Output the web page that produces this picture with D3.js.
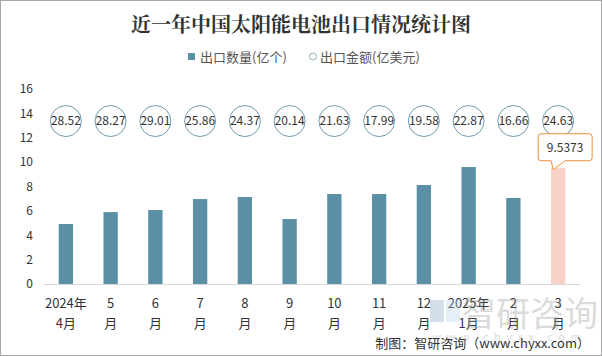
<!DOCTYPE html>
<html><head><meta charset="utf-8">
<script src="https://cdn.jsdelivr.net/npm/d3@7"></script>
<style>body{margin:0;background:#fff}svg{display:block}</style>
</head><body>
<script>
const categories = ["2024年|4月","5|月","6|月","7|月","8|月","9|月","10|月","11|月","12|月","2025年|1月","2|月","3|月"];
const quantity = [4.92, 5.9, 6.07, 6.97, 7.14, 5.33, 7.38, 7.38, 8.12, 9.6, 7.06, 9.5373];
const amount = [28.52, 28.27, 29.01, 25.86, 24.37, 20.14, 21.63, 17.99, 19.58, 22.87, 16.66, 24.63];
const yTicks = [0, 2, 4, 6, 8, 10, 12, 14, 16];
const highlightLabel = "9.5373";

const W = 602, H = 356;
const font = "'Noto Sans CJK SC','Microsoft YaHei',sans-serif";
const svg = d3.select("body").append("svg").attr("width", W).attr("height", H);
svg.append("rect").attr("x",0.5).attr("y",0.5).attr("width",W-1).attr("height",H-1)
  .attr("fill","#fff").attr("stroke","#a6a6a6");

const x = d3.scaleBand().domain(categories).range([43.5, 580.5]).paddingInner(0.68).paddingOuter(0.34);
const y = d3.scaleLinear().domain([0, 16]).range([284, 89]);

// title
svg.append("text").attr("x", 301).attr("y", 32).attr("text-anchor","middle")
  .style("font-family","'Noto Serif CJK SC','Noto Sans CJK SC',serif").style("font-weight","bold")
  .style("font-size","20px").attr("fill","#333").text("近一年中国太阳能电池出口情况统计图");

// legend
const lg = svg.append("g").style("font-family", font).style("font-size","13px").attr("fill","#555");
lg.append("rect").attr("x",188).attr("y",53).attr("width",7).attr("height",7).attr("fill","#5b8fa6");
lg.append("text").attr("x",200).attr("y",61.5).text("出口数量(亿个)");
lg.append("circle").attr("cx",313).attr("cy",56.5).attr("r",3.5).attr("fill","#fff").attr("stroke","#8fb0c0");
lg.append("text").attr("x",320).attr("y",61.5).text("出口金额(亿美元)");

// y axis
const ya = svg.append("g").attr("transform","translate(33,0)")
  .call(d3.axisLeft(y).tickValues(yTicks).tickSize(0).tickPadding(0));
ya.select(".domain").remove();
ya.selectAll("text").style("font-family", font).style("font-size","12px").attr("fill","#333");

// x axis
const xa = svg.append("g").attr("transform","translate(0,284)")
  .call(d3.axisBottom(x).tickSize(0).tickFormat(""));
xa.select(".domain").attr("stroke","#d9d9d9").attr("d","M43.5,0.5H580.5");
xa.selectAll(".tick").each(function(d){
  const parts = d.split("|");
  const t = d3.select(this);
  t.append("text").attr("y",24).attr("text-anchor","middle").attr("fill","#333")
    .style("font-family",font).style("font-size","13px").text(parts[0]);
  t.append("text").attr("y",44).attr("text-anchor","middle").attr("fill","#333")
    .style("font-family",font).style("font-size","13px").text(parts[1]);
});

// watermark
const wm = svg.append("g").attr("opacity",0.35);
wm.append("rect").attr("x",430).attr("y",300).attr("width",14).attr("height",22).attr("fill","#8aa6c8");
wm.append("rect").attr("x",446).attr("y",300).attr("width",14).attr("height",22).attr("fill","#b8d4ec");
wm.append("text").attr("x",462).attr("y",326).style("font-family",font).style("font-size","34px")
  .attr("fill","#9a9a9a").text("智研咨询");
wm.append("text").attr("x",432).attr("y",341).style("font-family",font).style("font-size","11px")
  .style("letter-spacing","5.5px").attr("fill","#9a9a9a").text("www.chyxx.com");

// bars
const last = categories.length - 1;
svg.append("g").selectAll("rect").data(quantity).join("rect")
  .attr("x",(d,i)=>x(categories[i])).attr("width",x.bandwidth())
  .attr("y",d=>y(d)).attr("height",d=>y(0)-y(d))
  .attr("fill",(d,i)=> i===last ? "#f8d2c9" : "#5b8fa6");

// amount circles
const amountLevel = 13.37;
const cg = svg.append("g").selectAll("g").data(amount).join("g")
  .attr("transform",(d,i)=>`translate(${x(categories[i])+x.bandwidth()/2},${y(amountLevel)})`);
cg.append("circle").attr("r",15.5).attr("fill","#fff").attr("stroke","#6f9bb0").attr("stroke-width",1);
cg.append("text").attr("text-anchor","middle").attr("dy","0.36em").attr("fill","#333")
  .style("font-family",font).style("font-size","12px").text(d=>d.toFixed(2));

// callout for last bar
const cx = x(categories[last]) + x.bandwidth()/2;
const tipY = y(quantity[last]) + 2;
const bx0 = cx - 20, bx1 = cx + 34, by0 = tipY - 36, by1 = tipY - 9, r = 3;
const path = `M${bx0+r},${by0} H${bx1-r} Q${bx1},${by0} ${bx1},${by0+r} V${by1-r} Q${bx1},${by1} ${bx1-r},${by1}
 H${cx+7} L${cx-5},${tipY} L${cx-7},${by1} H${bx0+r} Q${bx0},${by1} ${bx0},${by1-r} V${by0+r} Q${bx0},${by0} ${bx0+r},${by0}Z`;
svg.append("path").attr("d",path).attr("fill","#fff").attr("stroke","#e8903a").attr("stroke-width",1);
svg.append("text").attr("x",(bx0+bx1)/2).attr("y",(by0+by1)/2).attr("dy","0.36em").attr("text-anchor","middle")
  .style("font-family",font).style("font-size","12px").attr("fill","#333").text(highlightLabel);

// footer
svg.append("text").attr("x",590).attr("y",348).attr("text-anchor","end")
  .style("font-family",font).style("font-size","13px").attr("fill","#333").text("制图：智研咨询（www.chyxx.com）");
</script>
</body></html>
